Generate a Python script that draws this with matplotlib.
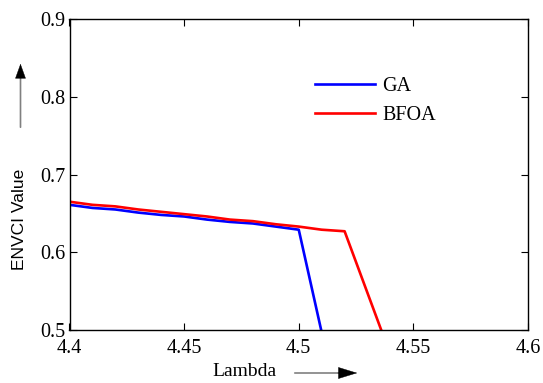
import matplotlib
matplotlib.use("Agg")
import matplotlib.pyplot as plt
from matplotlib.patches import FancyArrowPatch

lam_ga = [4.40, 4.41, 4.42, 4.43, 4.44, 4.45, 4.46, 4.47, 4.48, 4.49, 4.50, 4.51]
ga = [0.661, 0.657, 0.655, 0.651, 0.648, 0.646, 0.642, 0.639, 0.637, 0.633, 0.629, 0.497]
lam_bfoa = [4.40, 4.41, 4.42, 4.43, 4.44, 4.45, 4.46, 4.47, 4.48, 4.49, 4.50, 4.51, 4.52, 4.54]
bfoa = [0.665, 0.661, 0.659, 0.655, 0.652, 0.649, 0.646, 0.642, 0.640, 0.636, 0.633, 0.629, 0.627, 0.468]
xticks = [4.4, 4.45, 4.5, 4.55, 4.6]
xticklabels = ["4.4", "4.45", "4.5", "4.55", "4.6"]
yticks = [0.5, 0.6, 0.7, 0.8, 0.9]
yticklabels = ["0.5", "0.6", "0.7", "0.8", "0.9"]

W, H = 543, 383
fig = plt.figure(figsize=(W / 100, H / 100), dpi=100)
ax = fig.add_axes([69.5 / W, 1 - 330 / H, (528 - 69.5) / W, (330 - 19) / H])

serif = "Liberation Serif"
fs = 14.5

ax.plot(lam_ga, ga, color="#0000ff", lw=1.9, label="GA")
ax.plot(lam_bfoa, bfoa, color="#ff0000", lw=1.9, label="BFOA")
ax.set_xlim(4.4, 4.6)
ax.set_ylim(0.5, 0.9)
ax.set_xticks(xticks)
ax.set_xticklabels(xticklabels, family=serif, fontsize=fs)
ax.set_yticks(yticks)
ax.set_yticklabels(yticklabels, family=serif, fontsize=fs)
ax.tick_params(direction="in", length=5, width=0.8, top=True, right=True)
ax.tick_params(axis="x", pad=6.5)
ax.tick_params(axis="y", pad=3)
for s in ax.spines.values():
    s.set_linewidth(1.0)

ax.legend(loc="upper left", bbox_to_anchor=(315 / W, 1 - 77 / H),
          bbox_transform=fig.transFigure, frameon=False,
          prop={"family": serif, "size": fs}, handlelength=3.0,
          handletextpad=0.35, labelspacing=0.48, borderpad=0, borderaxespad=0)

# y label
fig.text(20 / W, 1 - 219 / H, "ENVCI Value", rotation=90, ha="center", va="center",
         family="Liberation Sans", fontsize=12.5)
# x label
fig.text(244 / W, 1 - 372 / H, "Lambda", ha="center", va="center", family=serif, fontsize=14)

# arrows
fig.add_artist(FancyArrowPatch((20.5 / W, 1 - 130 / H), (20.5 / W, 1 - 72 / H),
                               transform=fig.transFigure, arrowstyle="-",
                               color="#808080", lw=1.2))
fig.add_artist(FancyArrowPatch((20.5 / W, 1 - 80 / H), (20.5 / W, 1 - 61 / H),
                               transform=fig.transFigure,
                               arrowstyle="-|>,head_length=1.0,head_width=0.36",
                               mutation_scale=10, color="black", lw=0.3))
fig.add_artist(FancyArrowPatch((292 / W, 1 - 373 / H), (345 / W, 1 - 373 / H),
                               transform=fig.transFigure, arrowstyle="-",
                               color="#808080", lw=1.2))
fig.add_artist(FancyArrowPatch((335 / W, 1 - 373 / H), (360 / W, 1 - 373 / H),
                               transform=fig.transFigure,
                               arrowstyle="-|>,head_length=1.3,head_width=0.4",
                               mutation_scale=10, color="black", lw=0.3))

fig.savefig("out.png", dpi=100)
